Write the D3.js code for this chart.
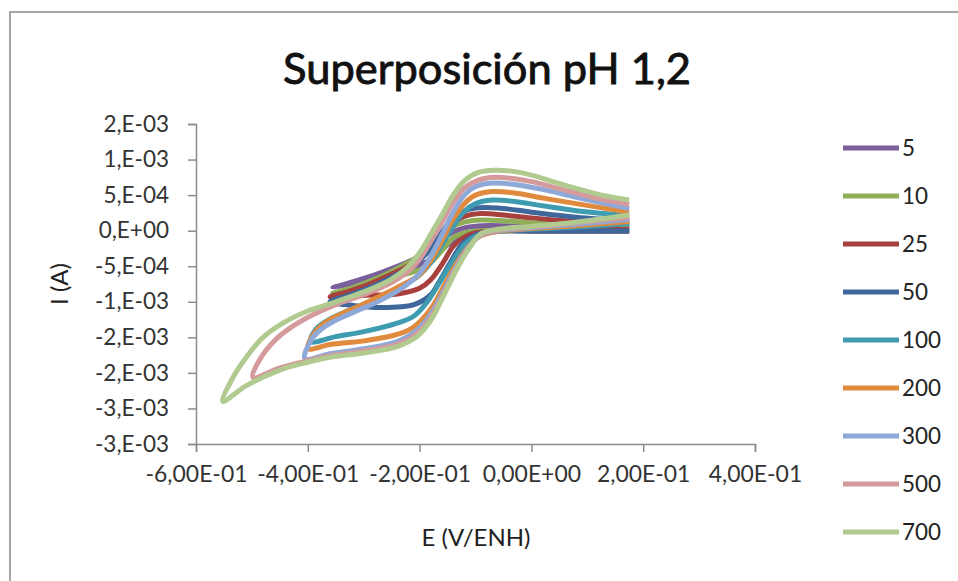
<!DOCTYPE html>
<html><head><meta charset="utf-8">
<script src="https://cdn.jsdelivr.net/npm/d3@7"></script>
<style>body{margin:0;background:#fff}svg{display:block}</style>
</head><body><svg id="c" width="958" height="581"></svg>
<script>
// ---------- data (E in V, I in A) ----------
const seriesNames = ["5","10","25","50","100","200","300","500","700"];

const cv5 = [[0.175,-0.01e-3],[0.0,-0.01e-3],[-0.05,0.0],[-0.09,0.0],[-0.12,-0.05e-3],[-0.15,-0.20e-3],[-0.18,-0.40e-3],[-0.21,-0.51e-3],[-0.24,-0.57e-3],[-0.28,-0.65e-3],[-0.32,-0.74e-3],[-0.355,-0.80e-3],
  [-0.32,-0.72e-3],[-0.28,-0.62e-3],[-0.24,-0.50e-3],[-0.21,-0.40e-3],[-0.18,-0.25e-3],[-0.16,-0.12e-3],[-0.14,-0.02e-3],[-0.12,0.04e-3],[-0.09,0.07e-3],[-0.05,0.07e-3],[0.0,0.05e-3],[0.08,0.03e-3],[0.175,0.03e-3]];
const cv10 = [[0.175,0.0],[0.0,0.0],[-0.09,0.0],[-0.12,-0.03e-3],[-0.14,-0.10e-3],[-0.16,-0.28e-3],[-0.18,-0.45e-3],[-0.20,-0.55e-3],[-0.23,-0.62e-3],[-0.26,-0.67e-3],[-0.30,-0.76e-3],[-0.355,-0.88e-3],
  [-0.32,-0.80e-3],[-0.28,-0.68e-3],[-0.24,-0.53e-3],[-0.21,-0.40e-3],[-0.18,-0.22e-3],[-0.16,-0.06e-3],[-0.14,0.06e-3],[-0.12,0.12e-3],[-0.09,0.15e-3],[-0.05,0.14e-3],[0.0,0.11e-3],[0.08,0.08e-3],[0.175,0.06e-3]];
const cv25 = [[0.175,0.02e-3],[0.08,0.01e-3],[0.0,0.01e-3],[-0.06,0.0],[-0.10,-0.03e-3],[-0.12,-0.09e-3],[-0.14,-0.22e-3],[-0.158,-0.45e-3],[-0.18,-0.69e-3],[-0.20,-0.81e-3],[-0.24,-0.89e-3],[-0.30,-0.91e-3],[-0.36,-0.93e-3],
  [-0.33,-0.86e-3],[-0.29,-0.75e-3],[-0.25,-0.61e-3],[-0.21,-0.45e-3],[-0.18,-0.25e-3],[-0.16,-0.05e-3],[-0.14,0.11e-3],[-0.12,0.20e-3],[-0.09,0.24e-3],[-0.05,0.22e-3],[0.0,0.18e-3],[0.08,0.13e-3],[0.175,0.10e-3]];
const cv50 = [[0.175,0.0],[0.08,0.0],[0.0,0.0],[-0.07,-0.01e-3],[-0.10,-0.06e-3],[-0.125,-0.20e-3],[-0.145,-0.45e-3],[-0.165,-0.72e-3],[-0.18,-0.90e-3],[-0.21,-1.04e-3],[-0.27,-1.08e-3],[-0.32,-1.05e-3],[-0.36,-1.00e-3],
  [-0.335,-0.93e-3],[-0.29,-0.80e-3],[-0.25,-0.65e-3],[-0.21,-0.48e-3],[-0.185,-0.30e-3],[-0.165,-0.08e-3],[-0.145,0.14e-3],[-0.125,0.26e-3],[-0.10,0.32e-3],[-0.06,0.32e-3],[0.0,0.26e-3],[0.08,0.19e-3],[0.175,0.14e-3]];
const cv100 = [[0.175,0.10e-3],[0.08,0.05e-3],[0.0,0.02e-3],[-0.07,-0.02e-3],[-0.10,-0.08e-3],[-0.12,-0.20e-3],[-0.14,-0.42e-3],[-0.165,-0.74e-3],[-0.188,-1.02e-3],[-0.21,-1.20e-3],[-0.24,-1.30e-3],[-0.30,-1.42e-3],[-0.35,-1.49e-3],[-0.395,-1.56e-3],
  [-0.385,-1.38e-3],[-0.36,-1.24e-3],[-0.32,-1.10e-3],[-0.27,-0.94e-3],[-0.23,-0.78e-3],[-0.20,-0.62e-3],[-0.18,-0.45e-3],[-0.16,-0.20e-3],[-0.14,0.06e-3],[-0.12,0.27e-3],[-0.10,0.38e-3],[-0.07,0.43e-3],[-0.03,0.41e-3],[0.02,0.35e-3],[0.08,0.28e-3],[0.175,0.21e-3]];
const cv200 = [[0.175,0.13e-3],[0.08,0.07e-3],[0.0,0.03e-3],[-0.06,-0.01e-3],[-0.09,-0.07e-3],[-0.11,-0.20e-3],[-0.134,-0.46e-3],[-0.158,-0.80e-3],[-0.18,-1.10e-3],[-0.21,-1.35e-3],[-0.24,-1.46e-3],[-0.30,-1.55e-3],[-0.36,-1.60e-3],[-0.40,-1.66e-3],
  [-0.39,-1.46e-3],[-0.37,-1.30e-3],[-0.34,-1.17e-3],[-0.30,-1.03e-3],[-0.24,-0.80e-3],[-0.20,-0.62e-3],[-0.18,-0.42e-3],[-0.16,-0.14e-3],[-0.14,0.16e-3],[-0.12,0.38e-3],[-0.10,0.50e-3],[-0.07,0.55e-3],[-0.03,0.53e-3],[0.02,0.46e-3],[0.08,0.38e-3],[0.175,0.26e-3]];
const cv300 = [[0.175,0.16e-3],[0.08,0.09e-3],[0.0,0.04e-3],[-0.06,0.0],[-0.09,-0.06e-3],[-0.11,-0.21e-3],[-0.134,-0.50e-3],[-0.158,-0.86e-3],[-0.18,-1.17e-3],[-0.205,-1.40e-3],[-0.24,-1.56e-3],[-0.30,-1.66e-3],[-0.36,-1.73e-3],[-0.405,-1.80e-3],
  [-0.395,-1.55e-3],[-0.375,-1.38e-3],[-0.35,-1.26e-3],[-0.31,-1.12e-3],[-0.27,-0.98e-3],[-0.23,-0.80e-3],[-0.20,-0.60e-3],[-0.18,-0.36e-3],[-0.16,-0.06e-3],[-0.14,0.26e-3],[-0.12,0.50e-3],[-0.10,0.62e-3],[-0.07,0.67e-3],[-0.03,0.65e-3],[0.02,0.58e-3],[0.08,0.47e-3],[0.175,0.31e-3]];
const cv500 = [[0.175,0.19e-3],[0.08,0.11e-3],[0.0,0.05e-3],[-0.06,0.01e-3],[-0.09,-0.05e-3],[-0.11,-0.22e-3],[-0.134,-0.53e-3],[-0.158,-0.90e-3],[-0.18,-1.22e-3],[-0.205,-1.45e-3],[-0.24,-1.60e-3],[-0.30,-1.69e-3],[-0.36,-1.76e-3],[-0.40,-1.83e-3],[-0.45,-1.93e-3],[-0.498,-2.06e-3],
  [-0.485,-1.80e-3],[-0.46,-1.55e-3],[-0.43,-1.36e-3],[-0.39,-1.18e-3],[-0.35,-1.04e-3],[-0.30,-0.90e-3],[-0.25,-0.73e-3],[-0.22,-0.57e-3],[-0.20,-0.40e-3],[-0.18,-0.15e-3],[-0.16,0.12e-3],[-0.14,0.40e-3],[-0.12,0.60e-3],[-0.095,0.71e-3],[-0.065,0.75e-3],[-0.03,0.73e-3],[0.0,0.69e-3],[0.06,0.57e-3],[0.12,0.45e-3],[0.175,0.37e-3]];
const cv700 = [[0.175,0.22e-3],[0.08,0.12e-3],[0.0,0.06e-3],[-0.06,0.02e-3],[-0.09,-0.04e-3],[-0.11,-0.23e-3],[-0.134,-0.55e-3],[-0.158,-0.93e-3],[-0.18,-1.26e-3],[-0.205,-1.49e-3],[-0.24,-1.63e-3],[-0.30,-1.72e-3],[-0.36,-1.78e-3],[-0.40,-1.85e-3],[-0.45,-1.96e-3],[-0.51,-2.18e-3],[-0.552,-2.40e-3],
  [-0.535,-2.08e-3],[-0.51,-1.78e-3],[-0.48,-1.50e-3],[-0.44,-1.28e-3],[-0.40,-1.13e-3],[-0.35,-1.00e-3],[-0.30,-0.86e-3],[-0.25,-0.68e-3],[-0.22,-0.50e-3],[-0.20,-0.31e-3],[-0.18,-0.05e-3],[-0.16,0.22e-3],[-0.14,0.50e-3],[-0.12,0.70e-3],[-0.095,0.82e-3],[-0.065,0.85e-3],[-0.03,0.83e-3],[0.0,0.78e-3],[0.06,0.64e-3],[0.12,0.51e-3],[0.175,0.43e-3]];

const seriesData = [cv5, cv10, cv25, cv50, cv100, cv200, cv300, cv500, cv700];

const yTickValues = [1.5e-3, 1e-3, 5e-4, 0, -5e-4, -1e-3, -1.5e-3, -2e-3, -2.5e-3, -3e-3];
const yTickLabels = ["2,E-03","1,E-03","5,E-04","0,E+00","-5,E-04","-1,E-03","-2,E-03","-2,E-03","-3,E-03","-3,E-03"];
const xTickValues = [-0.6, -0.4, -0.2, 0, 0.2, 0.4];
const xTickLabels = ["-6,00E-01","-4,00E-01","-2,00E-01","0,00E+00","2,00E-01","4,00E-01"];
const chartTitle = "Superposición pH 1,2";
const xTitle = "E (V/ENH)";
const yTitle = "I (A)";

// ---------- styles ----------
const colors = ["#7a5f9a","#8fae58","#a8403e","#3f679c","#3e9bb0","#e08a3e","#8ea9d8","#d49a9c","#b1ca90"];
const FONT = "Lato, 'Open Sans', sans-serif";

const svg = d3.select("#c");
svg.append("rect").attr("x",0).attr("y",0).attr("width",958).attr("height",581).attr("fill","#fff");
// chart frame
svg.append("rect").attr("x",10).attr("y",12).attr("width",960).attr("height",600)
  .attr("fill","none").attr("stroke","#a6a6a6").attr("stroke-width",2);

const x = d3.scaleLinear().domain([-0.6, 0.4]).range([196, 755]);
const y = d3.scaleLinear().domain([-3e-3, 1.5e-3]).range([444, 124]);

function fit(sel, target){
  const w = sel.node().getComputedTextLength();
  const fs = parseFloat(sel.attr("font-size"));
  return fs * target / w;
}

// axes
const yAxis = d3.axisLeft(y).tickValues(yTickValues).tickSize(8).tickPadding(19)
  .tickFormat((d,i)=>yTickLabels[i]);
const gy = svg.append("g").attr("transform","translate(196,0)").call(yAxis);
const xAxis = d3.axisBottom(x).tickValues(xTickValues).tickSize(8).tickPadding(14)
  .tickFormat((d,i)=>xTickLabels[i]);
const gx = svg.append("g").attr("transform","translate(0,444)").call(xAxis);
[gx,gy].forEach(g=>{
  g.select(".domain").attr("stroke","#8c8c8c").attr("stroke-width",1.5);
  g.selectAll(".tick line").attr("stroke","#8c8c8c").attr("stroke-width",1.5);
  g.selectAll(".tick text").attr("fill","#333").attr("font-family",FONT).attr("font-size",20);
});
const yRef = gy.selectAll(".tick text").filter((d,i)=>i===4);
gy.selectAll(".tick text").attr("font-size", fit(yRef, 74));
const xRef = gx.selectAll(".tick text").filter((d,i)=>i===1);
gx.selectAll(".tick text").attr("font-size", fit(xRef, 102));

// lines
const line = d3.line().x(d=>x(d[0])).y(d=>y(d[1])).curve(d3.curveCatmullRom.alpha(0.5));
svg.append("g").selectAll("path").data(seriesData).join("path")
  .attr("d", line).attr("fill","none")
  .attr("stroke",(d,i)=>colors[i]).attr("stroke-width",5)
  .attr("stroke-linejoin","round").attr("stroke-linecap","butt");

// title
const t = svg.append("text").attr("x",487).attr("y",84).attr("text-anchor","middle")
  .attr("font-family",FONT).attr("font-size",40).attr("fill","#111")
  .attr("stroke","#111").attr("stroke-width",0.9).text(chartTitle);
t.attr("font-size", fit(t, 408));

// axis titles
const xt = svg.append("text").attr("x",476).attr("y",546).attr("text-anchor","middle")
  .attr("font-family",FONT).attr("font-size",22).attr("fill","#222").text(xTitle);
const atfs = fit(xt, 109);
xt.attr("font-size", atfs);
svg.append("text").attr("transform","translate(68,284) rotate(-90)").attr("text-anchor","middle")
  .attr("font-family",FONT).attr("font-size",atfs).attr("fill","#222").text(yTitle);

// legend
const legY = d3.scalePoint().domain(seriesNames).range([148, 532]);
const lg = svg.append("g").selectAll("g").data(seriesNames).join("g")
  .attr("transform", d=>`translate(0,${legY(d)})`);
lg.append("line").attr("x1",843).attr("x2",899).attr("y1",0).attr("y2",0)
  .attr("stroke",(d,i)=>colors[i]).attr("stroke-width",5);
const lt = lg.append("text").attr("x",902).attr("y",0).attr("dy","0.35em")
  .attr("font-family",FONT).attr("font-size",22).attr("fill","#222").text(d=>d);
lt.attr("font-size", fit(lt.filter(d=>d==="700"), 39));
</script>
</body></html>
